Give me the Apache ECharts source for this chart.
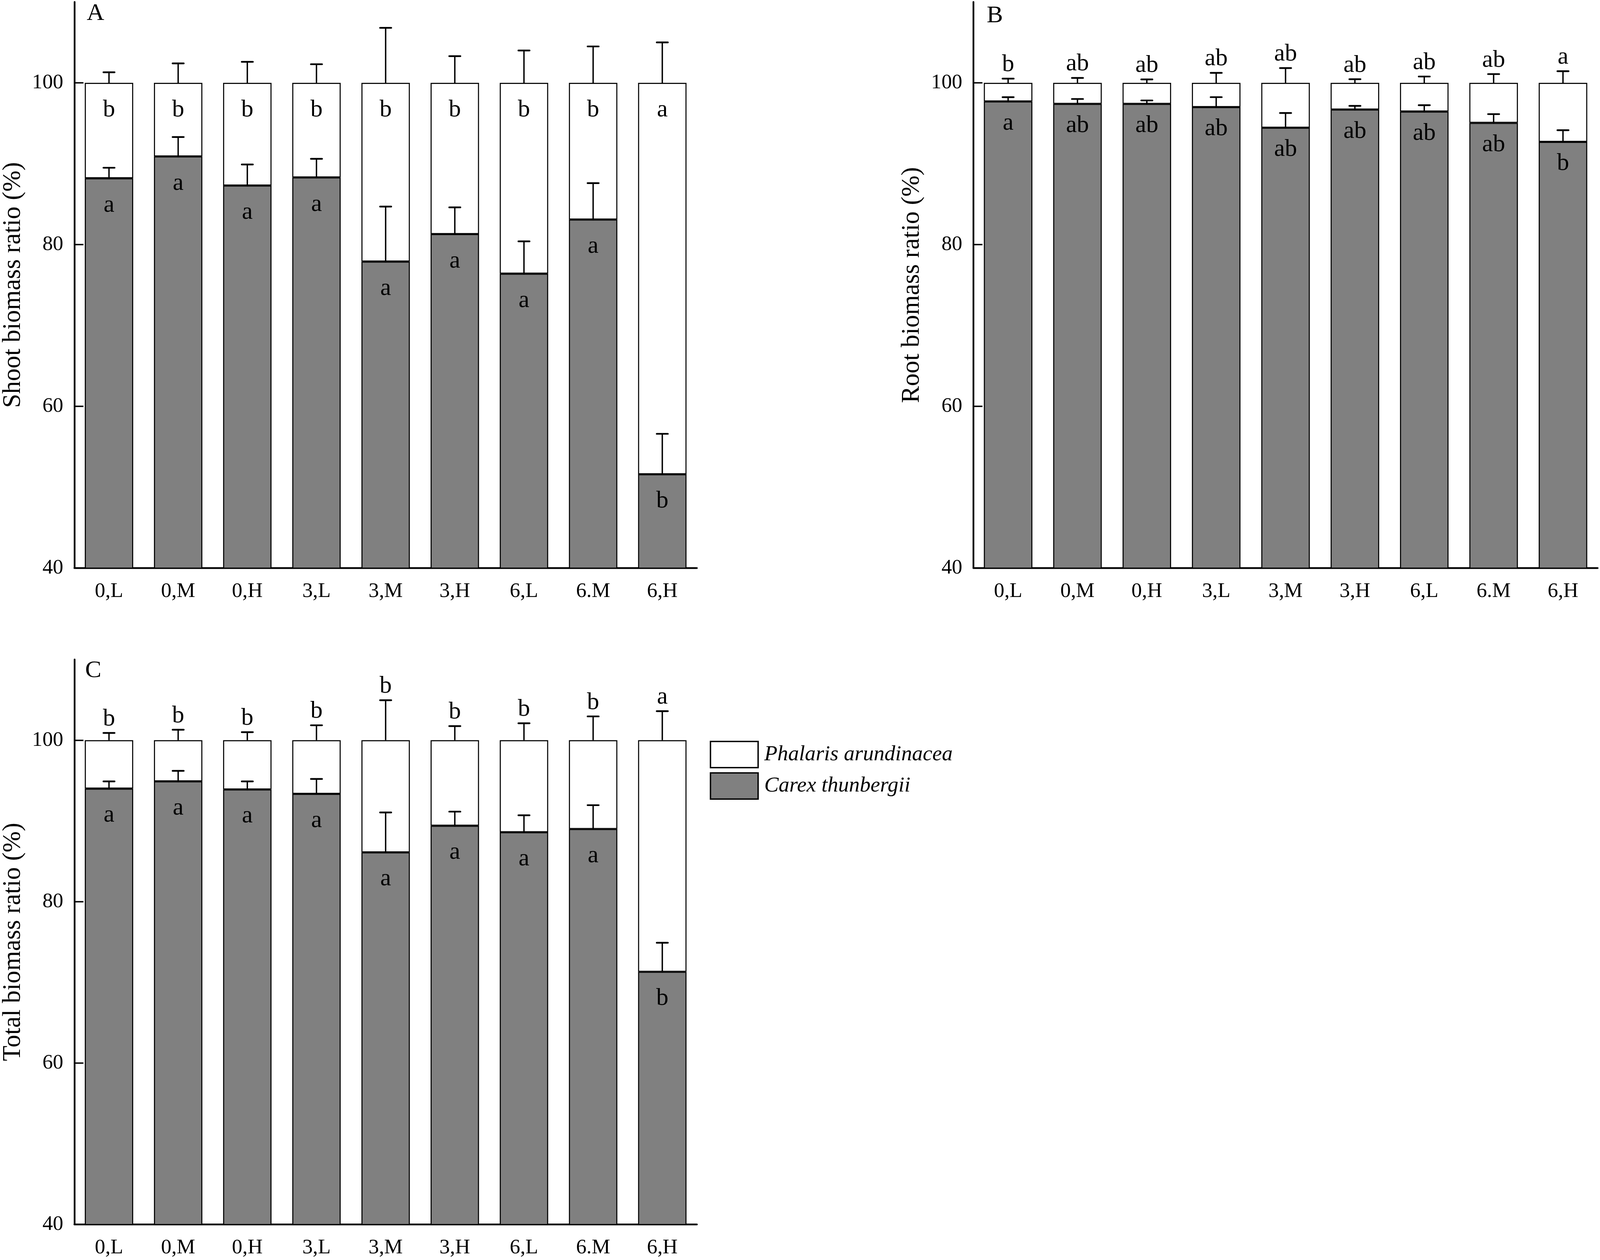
<!DOCTYPE html>
<html>
<head>
<meta charset="utf-8">
<title>Biomass ratio</title>
<script src="https://cdn.jsdelivr.net/npm/echarts@6/dist/echarts.min.js"></script>
<style>
  html, body { margin: 0; padding: 0; background: #fff; overflow: hidden; }
  #main { width: 100vw; height: 100vh; }
</style>
</head>
<body>
<div id="main"></div>
<script>
// categorias (tratamientos)
const categories = ['0,L', '0,M', '0,H', '3,L', '3,M', '3,H', '6,L', '6.M', '6,H'];

// A - shoot
const shootCarex = [88.2, 90.9, 87.3, 88.3, 77.9, 81.3, 76.4, 83.1, 51.6];
const shootSE = [1.3, 2.4, 2.6, 2.3, 6.8, 3.3, 4.0, 4.5, 5.0];
const shootTopLetters = ['b', 'b', 'b', 'b', 'b', 'b', 'b', 'b', 'a'];
const shootBottomLetters = ['a', 'a', 'a', 'a', 'a', 'a', 'a', 'a', 'b'];

// B - root
const rootCarex = [97.7, 97.4, 97.4, 97.0, 94.45, 96.7, 96.45, 95.05, 92.7];
const rootSE = [0.52, 0.6, 0.42, 1.23, 1.82, 0.45, 0.78, 1.08, 1.44];
const rootTopLetters = ['b', 'ab', 'ab', 'ab', 'ab', 'ab', 'ab', 'ab', 'a'];
const rootBottomLetters = ['a', 'ab', 'ab', 'ab', 'ab', 'ab', 'ab', 'ab', 'b'];

// C - total
const totalCarex = [94.0, 94.9, 93.9, 93.35, 86.1, 89.4, 88.6, 89.0, 71.3];
const totalSE = [0.9, 1.3, 1.0, 1.85, 4.95, 1.75, 2.1, 2.95, 3.6];
const totalTopLetters = ['b', 'b', 'b', 'b', 'b', 'b', 'b', 'b', 'a'];
const totalBottomLetters = ['a', 'a', 'a', 'a', 'a', 'a', 'a', 'a', 'b'];

const yTicks = [40, 60, 80, 100];
const legendNames = ['Phalaris arundinacea', 'Carex thunbergii'];

const FONT = 'Liberation Serif';

let dom = document.getElementById('main');
let chart = echarts.init(dom, null, { renderer: 'canvas' });

// todo se mide sobre una figura de 4606 x 3225 y se escala a la ventana
const sx = dom.clientWidth / 4606;
const sy = dom.clientHeight / 3225;
const k = Math.min(sx, sy);
const X = v => Math.round(v * sx);
const Y = v => Math.round(v * sy);
const S = v => v * k;

function xAxisFor(i) {
  return {
    type: 'category',
    gridIndex: i,
    data: categories,
    axisLine: { lineStyle: { color: '#000', width: S(5) } },
    axisTick: { show: false },
    axisLabel: { color: '#000', fontFamily: FONT, fontSize: S(60), margin: S(38) }
  };
}

function yAxisFor(i, name) {
  return {
    type: 'value',
    gridIndex: i,
    min: 40,
    max: 110,
    interval: 20,
    name: name,
    nameLocation: 'middle',
    nameGap: S(140),
    nameTextStyle: { color: '#000', fontFamily: FONT, fontSize: S(73) },
    axisLine: { show: true, lineStyle: { color: '#000', width: S(5) } },
    axisTick: { show: true, inside: true, length: S(26), lineStyle: { color: '#000', width: S(4) }, customValues: yTicks },
    axisLabel: { color: '#000', fontFamily: FONT, fontSize: S(60), margin: S(32), customValues: yTicks },
    splitLine: { show: false }
  };
}

// barras de error + letras encima
function errorSeries(i, carex, se, topLetters, above) {
  return {
    type: 'custom',
    xAxisIndex: i,
    yAxisIndex: i,
    z: 5,
    silent: true,
    data: carex.map((v, j) => [j, v, se[j]]),
    renderItem: function (params, api) {
      const c = api.value(0);
      const m = api.value(1);
      const s = api.value(2);
      const a0 = api.coord([c, m]);
      const a1 = api.coord([c, m + s]);
      const b0 = api.coord([c, 100]);
      const b1 = api.coord([c, 100 + s]);
      const cap = S(16);
      const stem = { stroke: '#000', lineWidth: S(4) };
      const capStyle = { stroke: '#000', lineWidth: S(5), lineCap: 'round' };
      const children = [
        { type: 'line', shape: { x1: a0[0], y1: a0[1], x2: a1[0], y2: a1[1] }, style: stem },
        { type: 'line', shape: { x1: a1[0] - cap, y1: a1[1], x2: a1[0] + cap, y2: a1[1] }, style: capStyle },
        { type: 'line', shape: { x1: b0[0], y1: b0[1], x2: b1[0], y2: b1[1] }, style: stem },
        { type: 'line', shape: { x1: b1[0] - cap, y1: b1[1], x2: b1[0] + cap, y2: b1[1] }, style: capStyle }
      ];
      if (above) {
        children.push({
          type: 'text',
          style: {
            text: topLetters[params.dataIndex],
            x: b1[0],
            y: b1[1] - S(5),
            fill: '#000',
            font: S(70) + 'px "' + FONT + '"',
            align: 'center',
            verticalAlign: 'bottom'
          }
        });
      }
      return { type: 'group', children: children };
    }
  };
}

function panelSeries(i, carex, se, topLetters, bottomLetters, above, dist) {
  const letterStyle = { show: true, position: 'insideTop', distance: S(dist), color: '#000', fontFamily: FONT, fontSize: S(70) };
  return [
    {
      name: 'Carex thunbergii',
      type: 'bar',
      xAxisIndex: i,
      yAxisIndex: i,
      stack: 'p' + i,
      barWidth: '70%',
      data: carex,
      itemStyle: { color: '#808080', borderColor: '#000', borderWidth: S(3) },
      label: Object.assign({}, letterStyle, { formatter: p => bottomLetters[p.dataIndex] })
    },
    {
      name: 'Phalaris arundinacea',
      type: 'bar',
      xAxisIndex: i,
      yAxisIndex: i,
      stack: 'p' + i,
      barWidth: '70%',
      data: carex.map(v => +(100 - v).toFixed(2)),
      itemStyle: { color: '#ffffff', borderColor: '#000', borderWidth: S(3) },
      label: Object.assign({}, letterStyle, { show: !above, formatter: p => topLetters[p.dataIndex] })
    },
    errorSeries(i, carex, se, topLetters, above)
  ];
}

const panelFont = S(70) + 'px "' + FONT + '"';

let option = {
  backgroundColor: '#fff',
  animation: false,
  grid: [
    { left: X(211), top: Y(5), width: X(1795), height: Y(1449) },
    { left: X(2802), top: Y(5), width: X(1797), height: Y(1449) },
    { left: X(211), top: Y(1688), width: X(1795), height: Y(1446) }
  ],
  xAxis: [xAxisFor(0), xAxisFor(1), xAxisFor(2)],
  yAxis: [
    yAxisFor(0, 'Shoot biomass ratio (%)'),
    yAxisFor(1, 'Root biomass ratio (%)'),
    yAxisFor(2, 'Total biomass ratio (%)')
  ],
  legend: {
    data: legendNames,
    orient: 'vertical',
    left: X(2038),
    top: Y(1891),
    itemWidth: X(137),
    itemHeight: Y(67),
    itemGap: Y(10),
    icon: 'rect',
    itemStyle: { borderColor: '#000', borderWidth: S(4) },
    textStyle: { color: '#000', fontFamily: FONT, fontStyle: 'italic', fontSize: S(62), padding: [0, 0, 0, S(12)] }
  },
  graphic: [
    { type: 'text', left: X(250), top: Y(4), style: { text: 'A', font: panelFont, fill: '#000' } },
    { type: 'text', left: X(2841), top: Y(10), style: { text: 'B', font: panelFont, fill: '#000' } },
    { type: 'text', left: X(245), top: Y(1686), style: { text: 'C', font: panelFont, fill: '#000' } }
  ],
  series: [].concat(
    panelSeries(0, shootCarex, shootSE, shootTopLetters, shootBottomLetters, false, 43),
    panelSeries(1, rootCarex, rootSE, rootTopLetters, rootBottomLetters, true, 28),
    panelSeries(2, totalCarex, totalSE, totalTopLetters, totalBottomLetters, true, 42)
  )
};

chart.setOption(option);
window.addEventListener('resize', chart.resize);
</script>
</body>
</html>
